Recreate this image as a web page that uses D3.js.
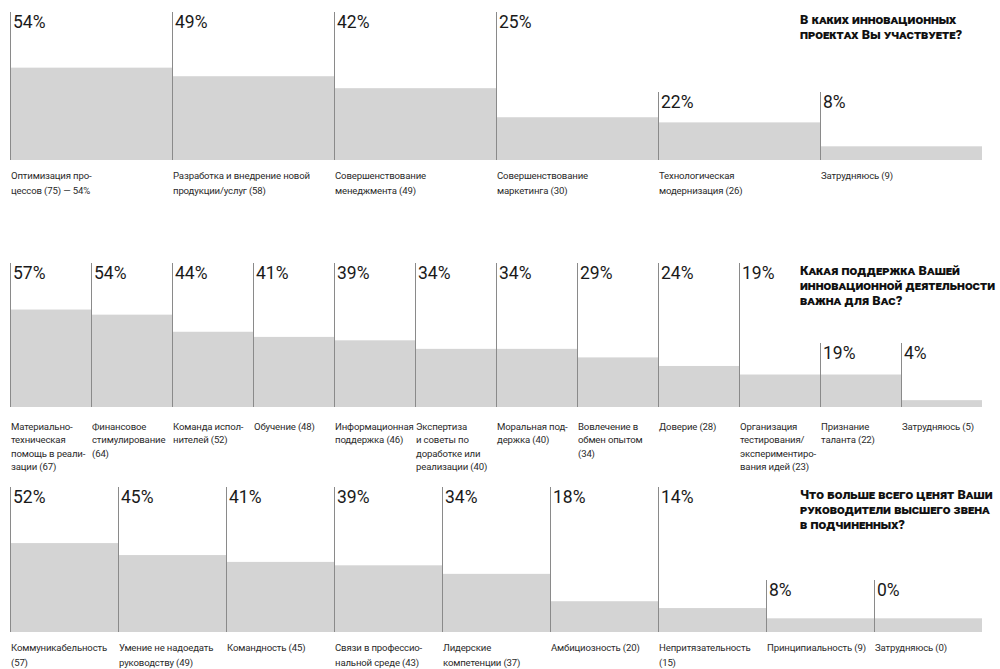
<!DOCTYPE html>
<html><head><meta charset="utf-8">
<script src="https://cdn.jsdelivr.net/npm/d3@7"></script>
<style>
body{margin:0;background:#fff;}
svg{display:block;}
.pct{font-family:Roboto,"DejaVu Sans",sans-serif;font-weight:400;font-size:17.5px;fill:#1a1a1a;}
.lbl{font-family:Roboto,"DejaVu Sans",sans-serif;font-size:9.6px;letter-spacing:-0.15px;fill:#2a2a2a;}
.ttl{font-family:Roboto,"DejaVu Sans",sans-serif;font-weight:900;font-size:13px;font-variant:small-caps;fill:#111;}
</style></head>
<body>
<svg id="c" width="1000" height="669"></svg>
<script>
// ---- data ----
const cats1 = ["Оптимизация про-|цессов (75) — 54%","Разработка и внедрение новой|продукции/услуг (58)","Совершенствование|менеджмента (49)","Совершенствование|маркетинга (30)","Технологическая|модернизация (26)","Затрудняюсь (9)"];
const vals1 = [54,49,42,25,22,8];
const pct1 = ["54%","49%","42%","25%","22%","8%"];
const title1 = ["В каких инновационных","проектах Вы участвуете?"];

const cats2 = ["Материально-|техническая|помощь в реали-|зации (67)","Финансовое|стимулирование|(64)","Команда испол-|нителей (52)","Обучение (48)","Информационная|поддержка (46)","Экспертиза|и советы по|доработке или|реализации (40)","Моральная под-|держка (40)","Вовлечение в|обмен опытом|(34)","Доверие (28)","Организация|тестирования/|экспериментиро-|вания идей (23)","Признание|таланта (22)","Затрудняюсь (5)"];
const vals2 = [57,54,44,41,39,34,34,29,24,19,19,4];
const pct2 = ["57%","54%","44%","41%","39%","34%","34%","29%","24%","19%","19%","4%"];
const title2 = ["Какая поддержка Вашей","инновационной деятельности","важна для Вас?"];

const cats3 = ["Коммуникабельность|(57)","Умение не надоедать|руководству (49)","Командность (45)","Связи в профессио-|нальной среде (43)","Лидерские|компетенции (37)","Амбициозность (20)","Непритязательность|(15)","Принципиальность (9)","Затрудняюсь (0)"];
const vals3 = [52,45,41,39,34,18,14,8,8];
const pct3 = ["52%","45%","41%","39%","34%","18%","14%","8%","0%"];
const title3 = ["Что больше всего ценят Ваши","руководители высшего звена","в подчиненных?"];

// ---- layout ----
const svg = d3.select("#c");
const h = d3.scaleLinear().domain([0,60]).range([0,102.6]);

const panels = [
  {cats:cats1, vals:vals1, pct:pct1, title:title1, base:160, top:12, lowTop:92, low:4, lblY:179, lh:14.5, titleY:24},
  {cats:cats2, vals:vals2, pct:pct2, title:title2, base:407, top:263, lowTop:343, low:10, lblY:430, lh:13.3, titleY:275},
  {cats:cats3, vals:vals3, pct:pct3, title:title3, base:632, top:487, lowTop:580, low:7, lblY:651, lh:14.5, titleY:499}
];

panels.forEach(p => {
  const x = d3.scaleBand().domain(p.cats).range([10,982]).padding(0);
  const g = svg.append("g");
  g.selectAll("rect").data(p.cats).join("rect")
    .attr("x", d => x(d)).attr("width", x.bandwidth())
    .attr("y", (d,i) => p.base - h(p.vals[i])).attr("height", (d,i) => h(p.vals[i]))
    .attr("fill", "#d4d4d4");
  g.selectAll("line").data(p.cats).join("line")
    .attr("x1", d => x(d)+0.5).attr("x2", d => x(d)+0.5)
    .attr("y1", (d,i) => i >= p.low ? p.lowTop : p.top).attr("y2", p.base)
    .attr("stroke", "#8a8a8a").attr("stroke-width", 1);
  g.selectAll("text.pct").data(p.cats).join("text").attr("class","pct")
    .attr("x", d => x(d)+3).attr("y", (d,i) => (i >= p.low ? p.lowTop : p.top) + 16)
    .text((d,i) => p.pct[i]);
  const lt = g.selectAll("text.lbl").data(p.cats).join("text").attr("class","lbl")
    .attr("x", d => x(d)+1).attr("y", p.lblY);
  lt.each(function(d){
    const t = d3.select(this);
    d.split("|").forEach((s,j) => t.append("tspan").attr("x", x(d)+1).attr("dy", j ? p.lh : 0).text(s));
  });
  const tt = g.append("text").attr("class","ttl").attr("x", 800).attr("y", p.titleY);
  p.title.forEach((s,j) => tt.append("tspan").attr("x", 800).attr("dy", j ? 15 : 0).text(s));
});
</script>
</body></html>
